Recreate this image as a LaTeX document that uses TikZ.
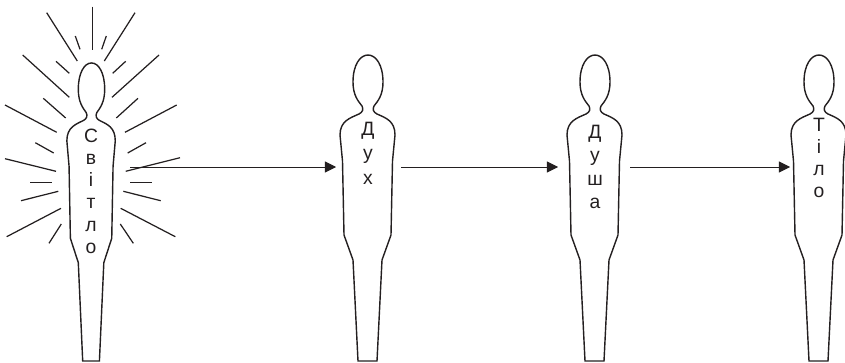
\documentclass[tikz,border=0pt]{standalone}
\usepackage{fontspec}
\setmainfont{Liberation Sans}
\usetikzlibrary{arrows.meta}
\definecolor{ink}{HTML}{231F20}

\begin{document}
\begin{tikzpicture}[x = 0.03cm, y = -0.03cm, line width = 1.2pt, color = ink,
                        word/.style = {align = center, inner sep = 0pt, font = \fontsize{16.5}{19}\selectfont},
                        arrow/.style = {line width = 0.55pt, -{Triangle[length = 9.5pt, width = 9.5pt]}},
                        ray/.style = {line width = 1.05pt},
                        man/.pic = {
                          \draw (-10, 0) -- (-15, -101) -- (-24, -126) -- (-25.5, -200) -- (-28, -226)
                            .. controls (-28, -240) and (-18, -243) .. (-9, -247)
                            .. controls (-5, -249) and (-4.5, -252) .. (-6, -255)
                            .. controls (-10, -260) and (-15, -266) .. (-15, -279)
                            .. controls (-15, -296) and (-8, -306) .. (0, -306)
                            .. controls (8, -306) and (15, -296) .. (15, -279)
                            .. controls (15, -266) and (10, -260) .. (6, -255)
                            .. controls (4.5, -252) and (5, -249) .. (9, -247)
                            .. controls (18, -243) and (27, -240) .. (27, -226)
                            -- (24.5, -200) -- (23, -126) -- (14, -101) -- (9, 0) -- cycle;
                        }]
      \useasboundingbox (0, 0) rectangle (845, 362);

      \pic [xscale = 0.88, yscale = 0.974] at (91.5, 361) {man};
      \pic at (368, 361) {man};
      \pic at (595, 361) {man};
      \pic at (819, 361) {man};

      % rays round the first figure
      \foreach \xa/\ya/\xb/\yb in {92.7/6.7/92.7/50, 46.7/12.7/77.3/61, 135/12.7/104.3/61,
          22.7/55/69.3/97.3, 159/55/112/97.3, 5/105/56.7/132.3, 176.7/105/125/132.3,
          5/158.7/56/171.3, 180/157.7/125.7/171.3, 75.3/36/80/49.3, 106.3/36/101.7/49.3,
          56/61.3/69.3/73.3, 125.7/61.3/112.7/73.3, 43.3/98.3/65.7/118, 138/98.3/116.3/118,
          35.3/142.7/53.7/153, 146/142.7/127.7/153, 30/182.4/51.7/182.4, 130/182.4/151.7/182.4,
          21/200.7/58.3/191.3, 160.7/200.7/123.3/191.3, 6.7/236.7/61/208.3, 175.3/236.7/120.7/208.3,
          49/243.3/61.3/224, 133.3/243.3/120.3/224}
        \draw [ray] (\xa, \ya) -- (\xb, \yb);

      \node [word] (light) at (91, 191) {С\\в\\і\\т\\л\\о};
      \node [word, font = \fontsize{16.5}{21}\selectfont] (spirit) at (368, 153) {Д\\у\\х};
      \node [word, font = \fontsize{16.5}{20}\selectfont] (soul) at (595, 167) {Д\\у\\ш\\а};
      \node [word] (body) at (819, 158) {Т\\і\\л\\о};

      \coordinate (a1) at (130, 167);
      \coordinate (a2) at (336, 167);
      \coordinate (b1) at (401, 167);
      \coordinate (b2) at (558, 167);
      \coordinate (c1) at (630, 167);
      \coordinate (c2) at (790, 167);
      \draw [arrow] (a1) -- (a2);
      \draw [arrow] (b1) -- (b2);
      \draw [arrow] (c1) -- (c2);
    \end{tikzpicture}
\end{document}
